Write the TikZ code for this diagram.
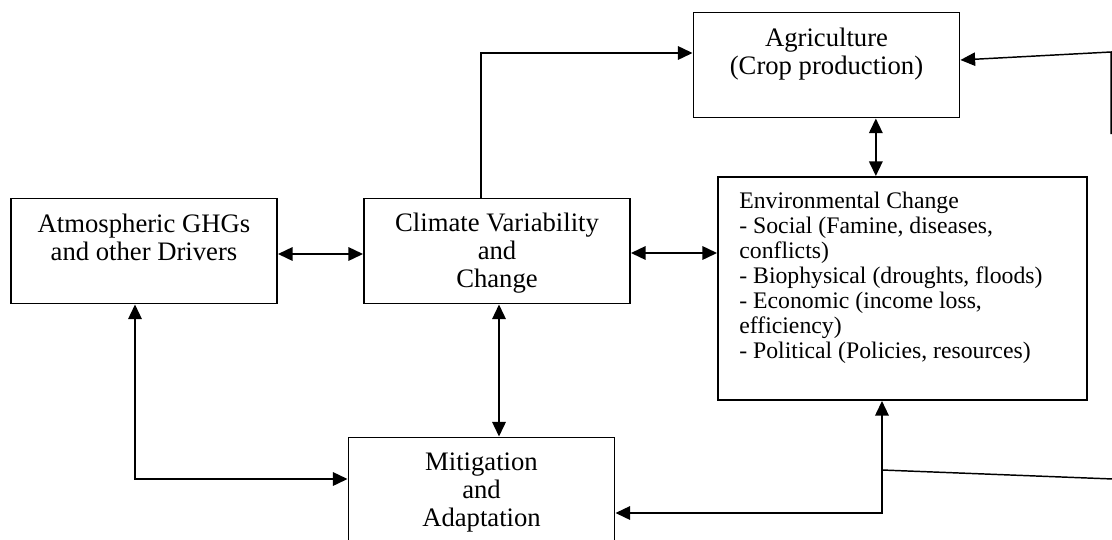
\documentclass[tikz,border=0pt]{standalone}
\usepackage{fontspec}
\setmainfont{Liberation Serif}
\usetikzlibrary{arrows.meta}
\newcommand{\boxfont}{\fontsize{20}{21}\selectfont}
\newcommand{\envfont}{\fontsize{17.8}{18.75}\selectfont}
\tikzset{
  box/.style={draw,line width=1.4pt,inner sep=0pt,minimum width=199.5pt,minimum height=78.75pt},
  boxtext/.style={align=center,inner sep=0pt,anchor=north,font=\boxfont},
  link/.style={line width=1.7pt,{Triangle[length=11pt,width=10pt]}-{Triangle[length=11pt,width=10pt]}},
  onelink/.style={line width=1.7pt,-{Triangle[length=11pt,width=10pt]}},
  thinline/.style={line width=1.1pt}
}
\begin{document}
\begin{tikzpicture}[x=0.75pt,y=-0.75pt]
  \useasboundingbox (0,0) rectangle (1112,539);
  \clip (0,0) rectangle (1112,539);
  % boxes
  \node[box] (agri) at (826.5,65) {};
  \node[box] (atm) at (144,251) {};
  \node[box] (clim) at (497,251) {};
  \node[box,minimum width=276.75pt,minimum height=167.25pt] (env) at (902.5,288.5) {};
  \node[box] (miti) at (481.5,490) {};
  % texts
  \node[boxtext] (agritext) at ([yshift=-12.4pt]agri.north) {Agriculture\\(Crop production)};
  \node[boxtext] (atmtext) at ([yshift=-12.4pt]atm.north) {Atmospheric GHGs\\and other Drivers};
  \node[boxtext] (climtext) at ([yshift=-11pt]clim.north) {Climate Variability\\and\\Change};
  \node[boxtext] (mititext) at ([yshift=-11.8pt]miti.north) {Mitigation\\and\\Adaptation};
  \node[align=left,inner sep=0pt,anchor=north west,font=\envfont] (envtext)
    at ([xshift=16.5pt,yshift=-11.5pt]env.north west)
    {Environmental Change\\- Social (Famine, diseases,\\conflicts)\\- Biophysical (droughts, floods)\\- Economic (income loss,\\efficiency)\\- Political (Policies, resources)};
  % connectors
  \draw[link] ([yshift=-2.25pt]atm.east) -- ([yshift=-2.25pt]clim.west);
  \draw[link] ([yshift=-1.5pt]clim.east) -- ([yshift=-1.5pt]clim.east -| env.west);
  \draw[onelink] ([xshift=-12pt]clim.north) |- ([yshift=9pt]agri.west);
  \draw[link] ([xshift=37pt]agri.south) -- ([xshift=37pt]agri.south |- env.north);
  \draw[link] ([xshift=1.5pt]clim.south) -- ([xshift=1.5pt]clim.south |- miti.north);
  \draw[link] ([xshift=-6.75pt]atm.south) |- ([yshift=8.25pt]miti.west);
  \draw[link] ([xshift=-15.4pt]env.south) |- ([yshift=-17.25pt]miti.east);
  % feedback lines leaving the picture
  \coordinate (fbin) at (882,470);
  \coordinate (fbout) at (1113,479);
  \coordinate (fbtop) at (1111,52);
  \coordinate (fbdown) at (1111,134);
  \draw[thinline] (fbin) -- (fbout);
  \draw[thinline,-{Triangle[length=11pt,width=10pt]}] (fbdown) -- (fbtop) -- ([yshift=3.75pt]agri.east);
\end{tikzpicture}
\end{document}
